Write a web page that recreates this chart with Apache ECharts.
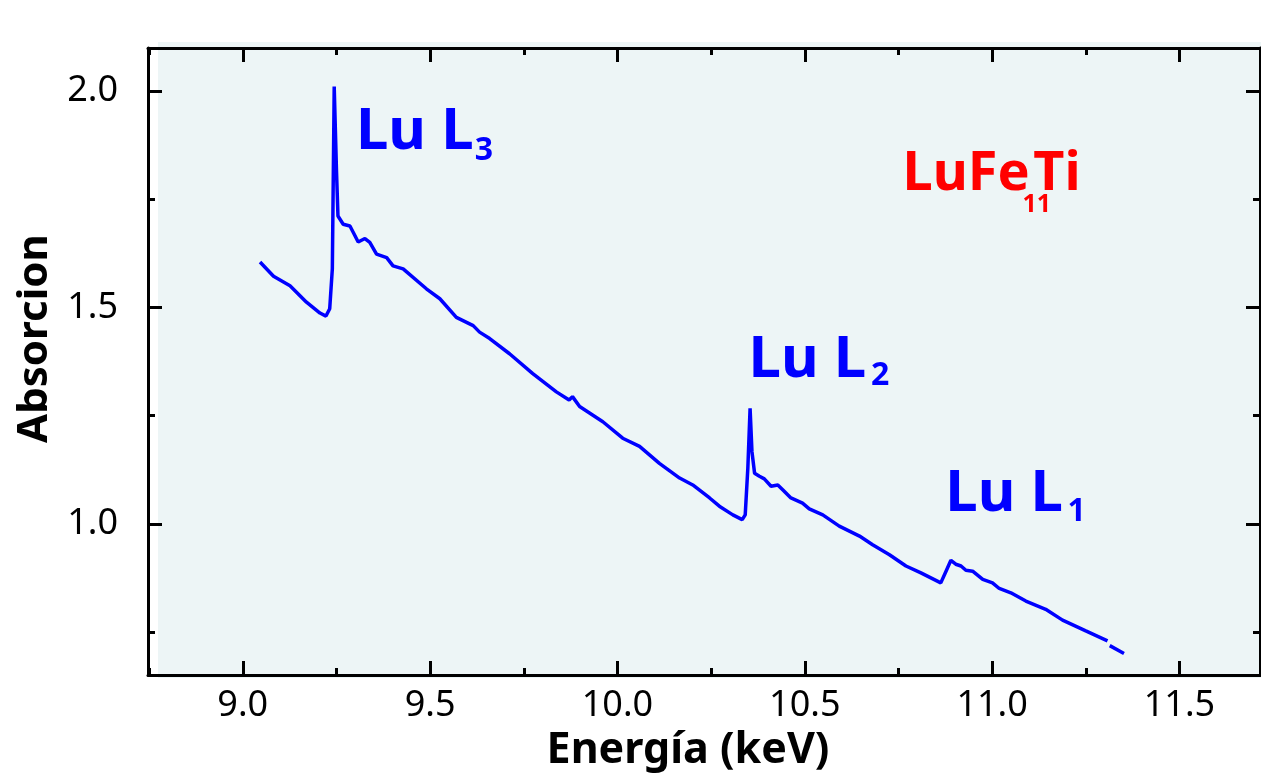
<!DOCTYPE html>
<html>
<head>
<meta charset="utf-8">
<style>
  html, body { margin: 0; padding: 0; background: #fff; }
  #chart { width: 1261px; height: 777px; }
</style>
<script src="https://cdn.jsdelivr.net/npm/echarts@6/dist/echarts.min.js"></script>
</head>
<body>
<div id="chart"></div>
<script>
// absorption spectrum
const energy = [
  9.046, 9.082, 9.126, 9.170, 9.206, 9.222, 9.232, 9.239, 9.244, 9.250,
  9.254, 9.268, 9.286, 9.295, 9.308, 9.326, 9.339, 9.357, 9.384, 9.401,
  9.428, 9.490, 9.526, 9.570, 9.615, 9.632, 9.659, 9.712, 9.774, 9.837,
  9.871, 9.880, 9.899, 9.961, 10.014, 10.059, 10.112, 10.166, 10.201, 10.246,
  10.272, 10.308, 10.333, 10.341, 10.348, 10.354, 10.359, 10.366, 10.379, 10.392,
  10.410, 10.428, 10.441, 10.463, 10.494, 10.512, 10.548, 10.592, 10.646, 10.681,
  10.726, 10.770, 10.810, 10.863, 10.877, 10.890, 10.903, 10.917, 10.930, 10.948,
  10.975, 11.001, 11.019, 11.050, 11.090, 11.143, 11.188, 11.250, 11.308, 11.311,
  11.314, 11.352
];
const absorb = [
  1.605, 1.572, 1.550, 1.512, 1.487, 1.480, 1.497, 1.589, 2.010, 1.818,
  1.711, 1.692, 1.688, 1.673, 1.651, 1.659, 1.650, 1.623, 1.615, 1.596,
  1.589, 1.543, 1.520, 1.477, 1.458, 1.443, 1.428, 1.393, 1.347, 1.305,
  1.286, 1.294, 1.271, 1.236, 1.198, 1.179, 1.140, 1.106, 1.090, 1.060,
  1.041, 1.021, 1.010, 1.021, 1.129, 1.267, 1.167, 1.117, 1.110, 1.104,
  1.087, 1.090, 1.079, 1.060, 1.048, 1.035, 1.021, 0.995, 0.972, 0.952,
  0.929, 0.903, 0.887, 0.864, 0.891, 0.916, 0.907, 0.903, 0.893, 0.891,
  0.872, 0.864, 0.851, 0.841, 0.822, 0.803, 0.778, 0.753, 0.730, null,
  0.719, 0.701
];

// edge labels, anchored in data units (left edge, vertical middle)
const noteText = ['Lu L', '3', 'Lu L', '2', 'Lu L', '1', 'LuFe', '11', 'Ti'];
const noteX = [9.302, 9.619, 10.350, 10.677, 10.875, 11.201, 10.761, 11.081, 11.110];
const noteY = [1.903, 1.861, 1.378, 1.341, 1.069, 1.029, 1.807, 1.736, 1.807];

const xMin = 8.747, xMax = 11.715;
const yMin = 0.651, yMax = 2.099;

const FONT = '"Noto Sans", "DejaVu Sans", sans-serif';
const blue = '#0000ff';
const red = '#ff0000';

const chart = echarts.init(document.getElementById('chart'));

const noteStyle = (text, i) => {
  const isSub = text.length <= 2 && /\d/.test(text);
  const isCompound = i >= 6;
  let size = 58;
  if (isSub) size = isCompound ? 25 : 32;
  else if (isCompound) size = 54;
  return {
    value: [noteX[i], noteY[i]],
    label: {
      show: true,
      formatter: text,
      position: 'right',
      distance: 0,
      fontFamily: FONT,
      fontWeight: 'bold',
      fontSize: size,
      color: isCompound ? red : blue
    }
  };
};

const tickOpts = (labels) => ({
  axisLine: { show: true, onZero: false, lineStyle: { color: '#000', width: 3 } },
  axisTick: { show: true, inside: true, length: 14, lineStyle: { color: '#000', width: 3 } },
  minorTick: { show: true, splitNumber: 2, length: 7, lineStyle: { color: '#000', width: 3 } },
  splitLine: { show: false },
  axisLabel: labels
});

const option = {
  animation: false,
  backgroundColor: '#fff',
  graphic: {
    elements: [{
      type: 'rect',
      z: -100,
      silent: true,
      shape: { x: 158, y: 42, width: 1103, height: 636 },
      style: { fill: '#edf5f6' }
    }]
  },
  grid: { left: 148, right: 1, top: 48, bottom: 99, containLabel: false },
  xAxis: [
    Object.assign({
      type: 'value', position: 'bottom', min: xMin, max: xMax, splitNumber: 6,
      name: 'Energía (keV)', nameLocation: 'middle', nameGap: 46,
      nameTextStyle: { fontFamily: FONT, fontWeight: 'bold', fontSize: 43, color: '#000', padding: [0, 32, 0, 0] }
    }, tickOpts({
      show: true, margin: 13, fontFamily: FONT, fontSize: 36, color: '#000',
      showMinLabel: false, showMaxLabel: false,
      formatter: (v) => v.toFixed(1)
    })),
    Object.assign({
      type: 'value', position: 'top', min: xMin, max: xMax, splitNumber: 6
    }, tickOpts({ show: false }))
  ],
  yAxis: [
    Object.assign({
      type: 'value', position: 'left', min: yMin, max: yMax, splitNumber: 3,
      name: 'Absorcion', nameLocation: 'middle', nameGap: 86, nameRotate: 90,
      nameTextStyle: { fontFamily: FONT, fontWeight: 'bold', fontSize: 42, color: '#000', padding: [0, 0, 0, 46] }
    }, tickOpts({
      show: true, margin: 30, fontFamily: FONT, fontSize: 36, color: '#000',
      showMinLabel: false, showMaxLabel: false,
      formatter: (v) => v.toFixed(1)
    })),
    Object.assign({
      type: 'value', position: 'right', min: yMin, max: yMax, splitNumber: 3
    }, tickOpts({ show: false }))
  ],
  series: [
    {
      type: 'line',
      xAxisIndex: 0,
      yAxisIndex: 0,
      data: energy.map((x, i) => [x, absorb[i]]),
      showSymbol: false,
      connectNulls: false,
      lineStyle: { color: blue, width: 3.5 },
      z: 3
    },
    {
      type: 'scatter',
      xAxisIndex: 0,
      yAxisIndex: 0,
      symbolSize: 0,
      silent: true,
      itemStyle: { opacity: 1 },
      data: noteText.map(noteStyle),
      z: 4
    }
  ]
};

chart.setOption(option);
</script>
</body>
</html>
